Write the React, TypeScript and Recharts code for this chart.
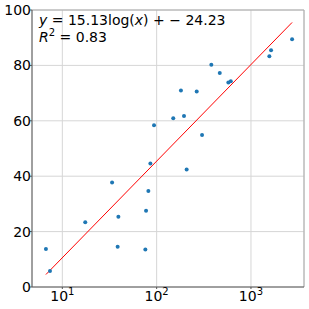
import React from "react";
import { CartesianGrid, ReferenceLine, Scatter, ScatterChart, XAxis, YAxis } from "recharts";

// scatter values
const xs = [6.7, 7.4, 17.5, 33.7, 39.3, 38.6, 75.9, 77.2, 81.7, 85.8, 93.8, 150, 181, 195, 208, 266, 303, 380, 467, 576, 611, 1567, 1633, 2729];
const ys = [13.7, 5.8, 23.4, 37.7, 25.4, 14.5, 13.5, 27.5, 34.7, 44.6, 58.4, 60.9, 70.9, 61.7, 42.4, 70.6, 54.9, 80.2, 77.3, 73.8, 74.3, 83.3, 85.5, 89.4];

// fitted line end points
const fitX = [6.7, 2729];
const fitY = [4.5, 95.5];

const xTicks = [10, 100, 1000];
const yTicks = [0, 20, 40, 60, 80, 100];
const xDomain = [4.77, 3650];

const points = xs.map((x, i) => ({ x, y: ys[i] }));
const fit = fitX.map((x, i) => ({ x, y: fitY[i] }));

const font = "DejaVu Sans, sans-serif";

function XTick({ x, y, payload }: any) {
  const exp = Math.round(Math.log10(payload.value));
  return (
    <text x={x} y={y + 12} textAnchor="middle" fontFamily={font} fontSize={14} fill="#000">
      <tspan>10</tspan>
      <tspan dy={-6} fontSize={10}>{exp}</tspan>
    </text>
  );
}

function YTick({ x, y, payload }: any) {
  return (
    <text x={x + 1} y={y + 5} textAnchor="end" fontFamily={font} fontSize={14} fill="#000">
      {payload.value}
    </text>
  );
}

export default function App() {
  return (
    <div style={{ position: "absolute", left: 0, top: 0, width: 309, height: 309, background: "#fff" }}>
      <ScatterChart width={309} height={309} margin={{ top: 10, right: 5, bottom: 0, left: 0 }}>
        <CartesianGrid stroke="#d6d6d6" />
        <XAxis
          type="number"
          dataKey="x"
          scale="log"
          domain={xDomain}
          ticks={xTicks}
          allowDataOverflow
          height={22}
          tick={<XTick />}
          tickSize={2}
          tickMargin={0}
          stroke="#555"
        />
        <YAxis
          type="number"
          dataKey="y"
          domain={[0, 100]}
          ticks={yTicks}
          width={32}
          tick={<YTick />}
          tickSize={2}
          tickMargin={0}
          stroke="#555"
        />
        <ReferenceLine y={100} stroke="#aaa" />
        <ReferenceLine x={xDomain[1]} stroke="#aaa" />
        <Scatter
          data={fit}
          line={{ stroke: "#ff0000", strokeWidth: 1 }}
          shape={() => <g />}
          isAnimationActive={false}
        />
        <Scatter data={points} fill="#1f77b4" shape={(p: any) => <circle cx={p.cx} cy={p.cy} r={2} fill="#1f77b4" />} isAnimationActive={false} />
      </ScatterChart>
      <svg width={309} height={60} style={{ position: "absolute", left: 0, top: 0 }}>
        <text x={39} y={25} fontFamily={font} fontSize={14} fill="#000">
          <tspan fontStyle="italic">y</tspan>
          <tspan> = 15.13log(</tspan>
          <tspan fontStyle="italic">x</tspan>
          <tspan>) + − 24.23</tspan>
        </text>
        <text x={39} y={42} fontFamily={font} fontSize={14} fill="#000">
          <tspan fontStyle="italic">R</tspan>
          <tspan dy={-6} fontSize={10}>2</tspan>
          <tspan dy={6}> = 0.83</tspan>
        </text>
      </svg>
    </div>
  );
}
